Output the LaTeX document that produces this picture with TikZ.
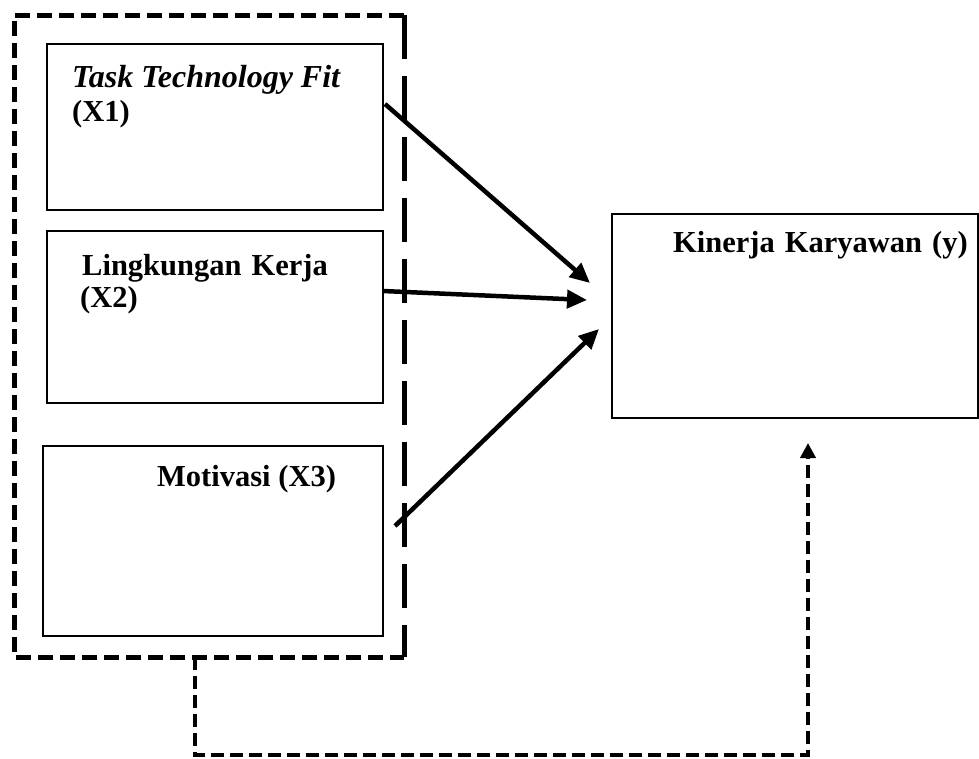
\documentclass[tikz,border=0pt]{standalone}
\usepackage{fontspec}
\setmainfont{Liberation Serif}
\usetikzlibrary{arrows.meta,calc}
\begin{document}
\begin{tikzpicture}[x=1pt,y=-1pt,
  box/.style={draw, line width=2pt, anchor=north west, inner sep=0pt},
  lbl/.style={anchor=base west, inner sep=0pt, font=\fontsize{30.5}{37}\selectfont\bfseries},
  wide/.style={execute at begin node={\spaceskip=10pt plus 2pt}},
  arr/.style={line width=4.5pt, -{Triangle[length=20pt,width=18pt]}},
  grp/.style={line width=5pt, dash pattern=on 15pt off 7pt},
  grpr/.style={line width=5pt, dash pattern=on 44pt off 17pt},
  link/.style={line width=4pt, dash pattern=on 13pt off 6pt, -{Triangle[length=15pt,width=15pt]}}]
\useasboundingbox (0,0) rectangle (979,758);
% boxes
\node[box, minimum width=336pt, minimum height=166pt] (x1) at (46,43) {};
\node[box, minimum width=336pt, minimum height=172pt] (x2) at (46,230) {};
\node[box, minimum width=340pt, minimum height=190pt] (x3) at (42,445) {};
\node[box, minimum width=366pt, minimum height=204pt] (yb) at (611,213) {};
% group border
\coordinate (g1) at (404,15);
\coordinate (g2) at (14,15);
\coordinate (g3) at (14,657);
\coordinate (g4) at (404,657);
\draw[grp] (g1) -- (g2) -- (g3) -- (g4);
\draw[grpr] (g1) -- (g4);
% texts
\node[lbl, font=\fontsize{32}{37}\selectfont\bfseries\itshape] (t1) at (72,87) {Task Technology Fit};
\node[lbl] (t1b) at (72,121) {(X1)};
\node[lbl, wide] (t2) at (82,275) {Lingkungan Kerja};
\node[lbl] (t2b) at (80,307) {(X2)};
\node[lbl] (t3) at (157,486) {Motivasi (X3)};
\node[lbl, wide] (t4) at (673,252) {Kinerja Karyawan (y)};
% arrows
\coordinate (s1) at (385,104);
\coordinate (e1) at (590,283);
\coordinate (s2) at (383,291);
\coordinate (e2) at (587,300);
\coordinate (s3) at (395,526);
\coordinate (e3) at (599,329);
\draw[arr] (s1) -- (e1);
\draw[arr] (s2) -- (e2);
\draw[arr] (s3) -- (e3);
% moderating link
\coordinate (m0) at (195,657);
\coordinate (m1) at (195,755);
\coordinate (m2) at (808,755);
\coordinate (m3) at (808,443);
\draw[link] (m0) -- (m1) -- (m2) -- (m3);
\end{tikzpicture}
\end{document}
